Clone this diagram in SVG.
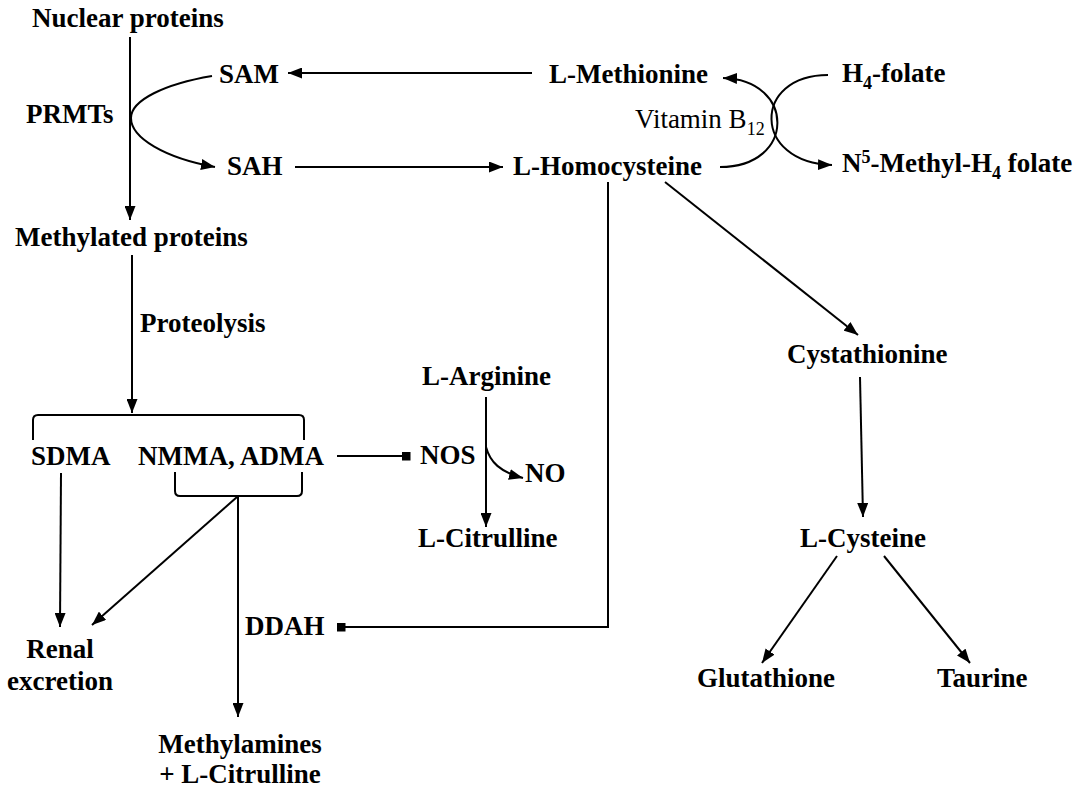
<svg xmlns="http://www.w3.org/2000/svg" width="1086" height="791" viewBox="0 0 1086 791">
<defs>
<style>
text{font-family:"Liberation Serif","Times New Roman",serif;font-size:27px;fill:#000}
.b{font-weight:bold}
.r{font-weight:normal}
.sm{font-size:18px}
.c{fill:none;stroke:#000;stroke-width:2}
</style>
<marker id="ah" markerUnits="userSpaceOnUse" markerWidth="15" markerHeight="11" refX="14" refY="5.5" orient="auto">
<path d="M0,0 L14,5.5 L0,11 z" fill="#000"/>
</marker>
<marker id="sq" markerUnits="userSpaceOnUse" markerWidth="9" markerHeight="9" refX="4.5" refY="4.5" orient="auto">
<rect x="0" y="0" width="9" height="9" fill="#000"/>
</marker>
</defs>
<rect width="1086" height="791" fill="#fff"/>
<g id="connectors">
<path class="c" d="M130 37 V220" marker-end="url(#ah)"/>
<path class="c" d="M212 76 C165 84 131 100 131 118 C131 138 165 158 215 167" marker-end="url(#ah)"/>
<path class="c" d="M532 73 H288" marker-end="url(#ah)"/>
<path class="c" d="M295 167 H503" marker-end="url(#ah)"/>
<path class="c" d="M720 167 C796 167 796 80 723 78" marker-end="url(#ah)"/>
<path class="c" d="M828 75 C752 75 752 163 832 165" marker-end="url(#ah)"/>
<path class="c" d="M132 255 V413" marker-end="url(#ah)"/>
<path class="c" d="M33 440 V420 Q33 415 38 415 H299 Q304 415 304 420 V440"/>
<path class="c" d="M175 472 V491 Q175 496 180 496 H297 Q302 496 302 491 V472"/>
<path class="c" d="M238 496 V717" marker-end="url(#ah)"/>
<path class="c" d="M237 497 L92 625" marker-end="url(#ah)"/>
<path class="c" d="M61 473 L60 627" marker-end="url(#ah)"/>
<path class="c" d="M337 456 H406" marker-end="url(#sq)"/>
<path class="c" d="M486 397 V527" marker-end="url(#ah)"/>
<path class="c" d="M486 447 C490 462 500 472 523 478" marker-end="url(#ah)"/>
<path class="c" d="M608 182 V627 H341" marker-end="url(#sq)"/>
<path class="c" d="M665 182 L858 335" marker-end="url(#ah)"/>
<path class="c" d="M860 377 L863 517" marker-end="url(#ah)"/>
<path class="c" d="M837 556 L762 663" marker-end="url(#ah)"/>
<path class="c" d="M884 556 L970 663" marker-end="url(#ah)"/>
</g>
<g id="nuclear-proteins"><text class="b" x="32" y="27">Nuclear proteins</text></g>
<g id="sam"><text class="b" x="219" y="83">SAM</text></g>
<g id="prmts"><text class="b" x="26" y="123">PRMTs</text></g>
<g id="sah"><text class="b" x="227" y="175">SAH</text></g>
<g id="methylated-proteins"><text class="b" x="15" y="246">Methylated proteins</text></g>
<g id="proteolysis"><text class="b" x="140" y="332">Proteolysis</text></g>
<g id="l-methionine"><text class="b" x="549" y="83">L-Methionine</text></g>
<g id="h4-folate"><text class="b" x="842" y="82">H<tspan class="sm" dy="7">4</tspan><tspan dy="-7">-folate</tspan></text></g>
<g id="vitamin-b12"><text class="r" x="635" y="128">Vitamin B<tspan class="sm" dy="7">12</tspan></text></g>
<g id="l-homocysteine"><text class="b" x="513" y="175">L-Homocysteine</text></g>
<g id="n5-methyl-h4-folate"><text class="b" x="842" y="172">N<tspan class="sm" dy="-9">5</tspan><tspan dy="9">-Methyl-H</tspan><tspan class="sm" dy="7">4</tspan><tspan dy="-7"> folate</tspan></text></g>
<g id="cystathionine"><text class="b" x="787" y="363">Cystathionine</text></g>
<g id="l-arginine"><text class="b" x="422" y="385">L-Arginine</text></g>
<g id="sdma"><text class="b" x="31" y="465">SDMA</text></g>
<g id="nmma-adma"><text class="b" x="138" y="465">NMMA, ADMA</text></g>
<g id="nos"><text class="b" x="420" y="464">NOS</text></g>
<g id="no"><text class="b" x="525" y="482">NO</text></g>
<g id="l-citrulline"><text class="b" x="418" y="547">L-Citrulline</text></g>
<g id="l-cysteine"><text class="b" x="800" y="547">L-Cysteine</text></g>
<g id="ddah"><text class="b" x="245" y="635">DDAH</text></g>
<g id="renal-excretion"><text class="b" x="60" y="658" text-anchor="middle">Renal</text><text class="b" x="60" y="690" text-anchor="middle">excretion</text></g>
<g id="glutathione"><text class="b" x="697" y="687">Glutathione</text></g>
<g id="taurine"><text class="b" x="937" y="687">Taurine</text></g>
<g id="methylamines"><text class="b" x="240" y="753" text-anchor="middle">Methylamines</text><text class="b" x="240" y="783" text-anchor="middle">+ L-Citrulline</text></g>
</svg>
